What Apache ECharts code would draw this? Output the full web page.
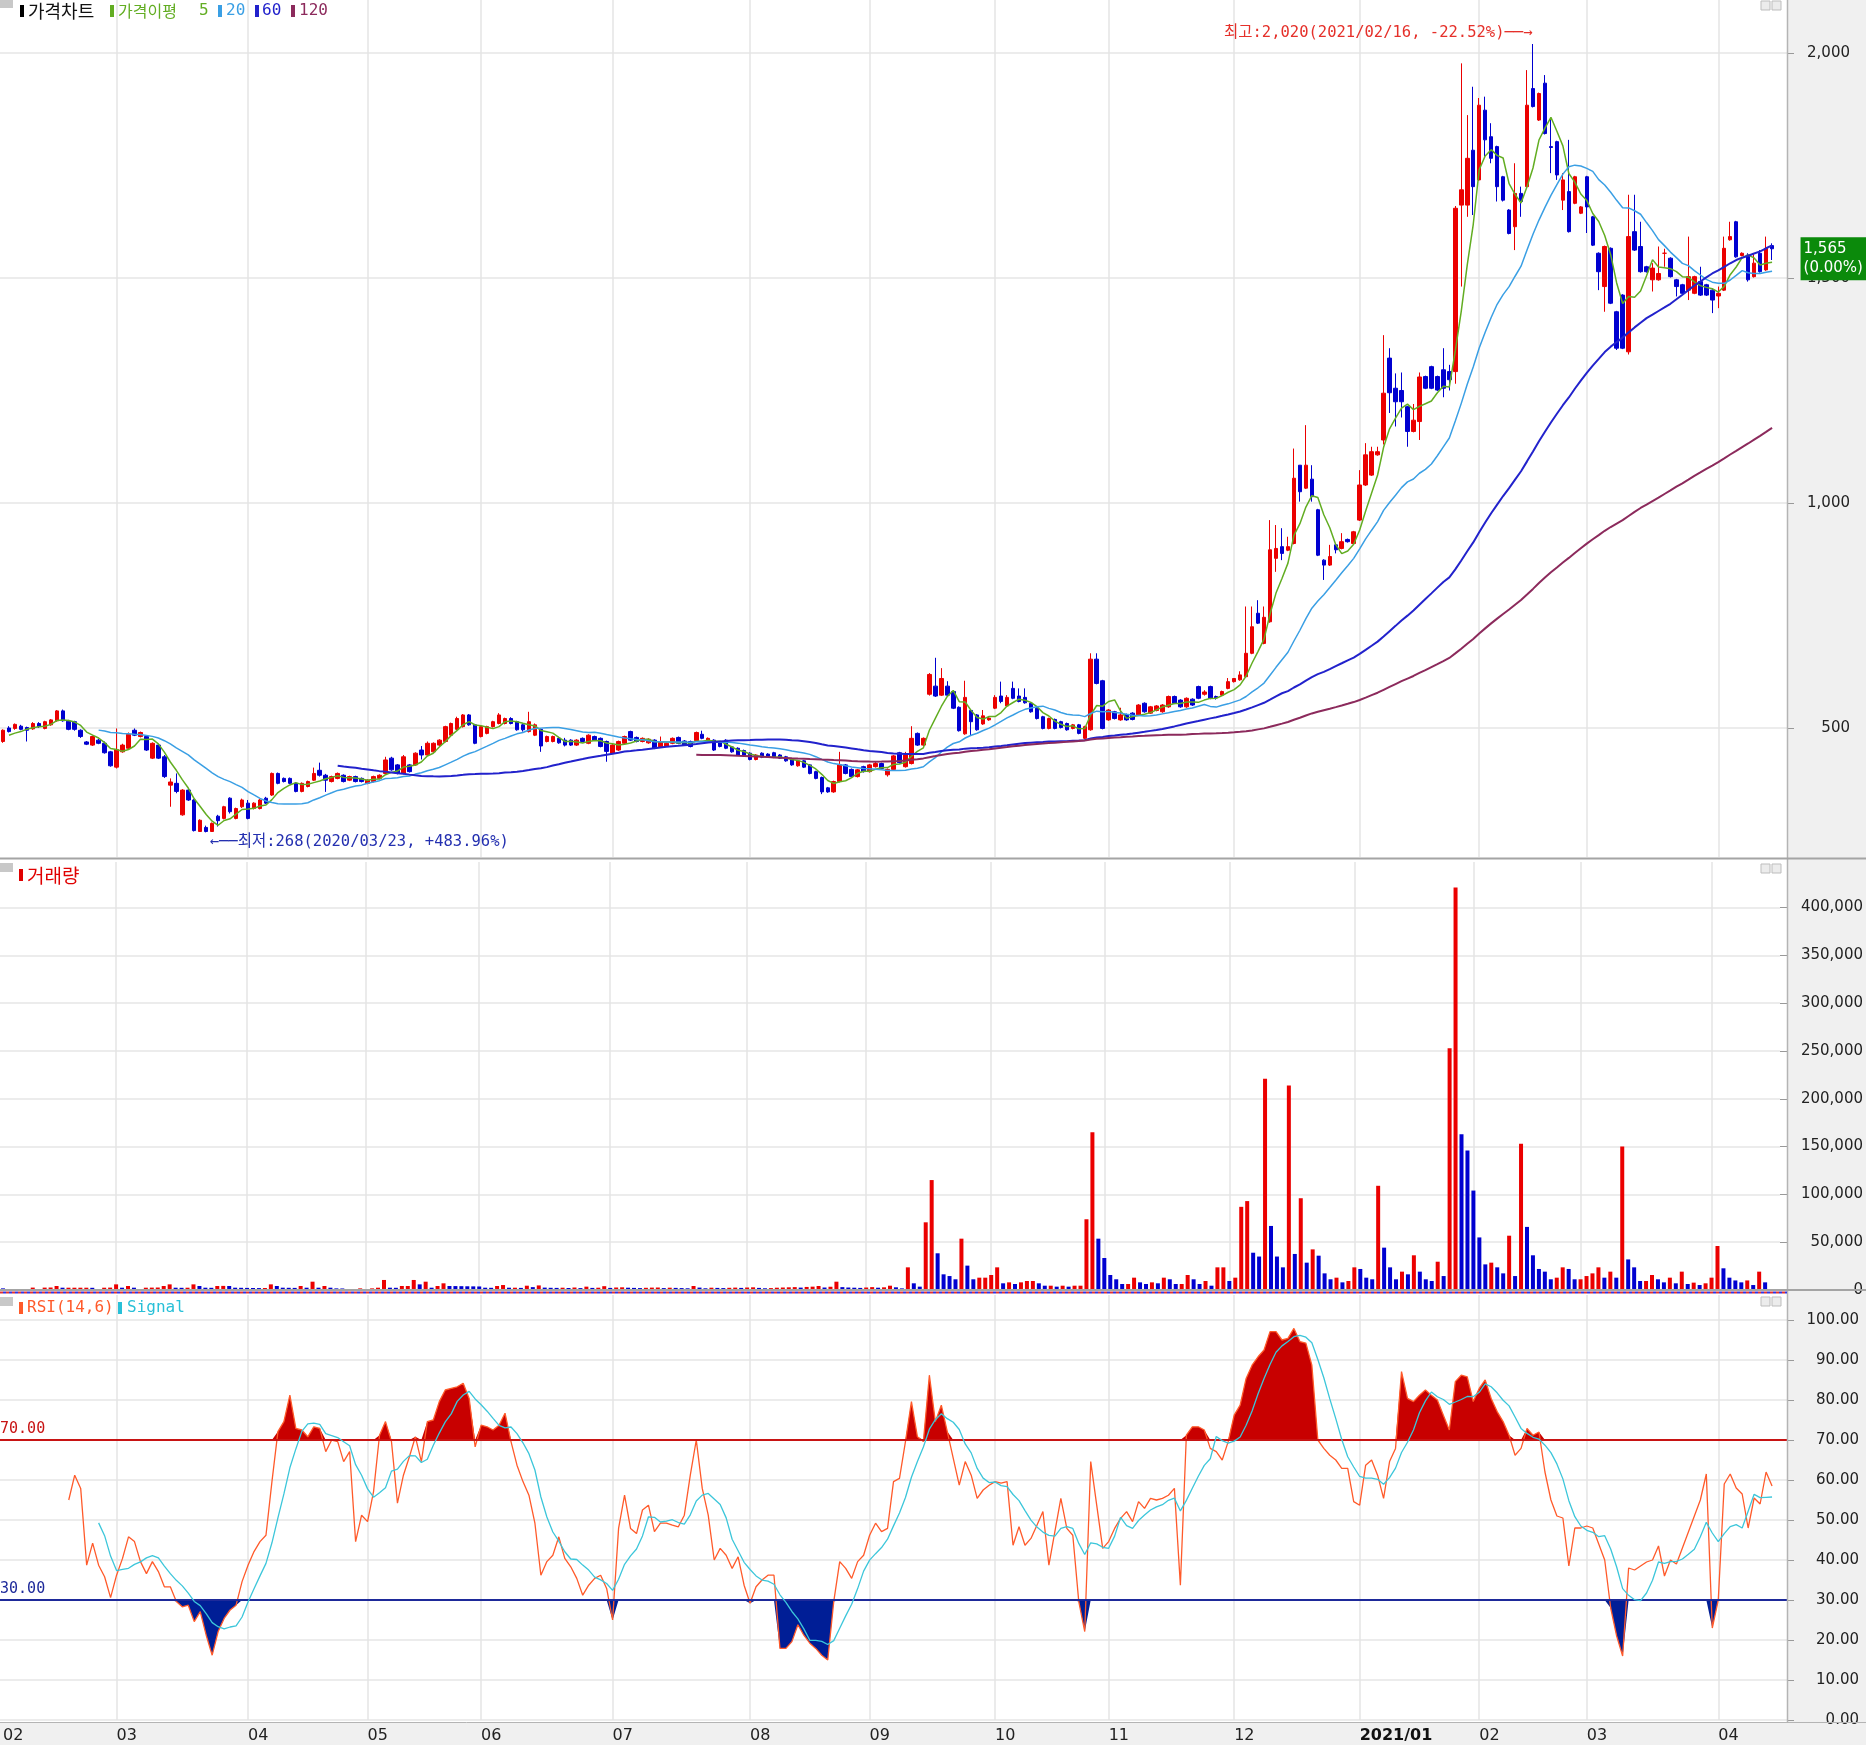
<!DOCTYPE html>
<html><head><meta charset="utf-8">
<script src="https://cdn.jsdelivr.net/npm/echarts@6/dist/echarts.min.js"></script>
<style>html,body{margin:0;padding:0;background:#fff}#c{width:1866px;height:1745px}</style>
</head><body><div id="c"></div>
<script>
// ---------- DATA ----------
const tradingDays = [
 ['2020/02','04 05 06 07 10 11 12 13 14 17 18 19 20 21 24 25 26 27 28'],
 ['2020/03','02 03 04 05 06 09 10 11 12 13 16 17 18 19 20 23 24 25 26 27 30 31'],
 ['2020/04','01 02 03 06 07 08 09 10 13 14 16 17 20 21 22 23 24 27 28 29'],
 ['2020/05','04 06 07 08 11 12 13 14 15 18 19 20 21 22 25 26 27 28 29'],
 ['2020/06','01 02 03 04 05 08 09 10 11 12 15 16 17 18 19 22 23 24 25 26 29 30'],
 ['2020/07','01 02 03 06 07 08 09 10 13 14 15 16 17 20 21 22 23 24 27 28 29 30 31'],
 ['2020/08','03 04 05 06 07 10 11 12 13 14 18 19 20 21 24 25 26 27 28 31'],
 ['2020/09','01 02 03 04 07 08 09 10 11 14 15 16 17 18 21 22 23 24 25 28 29'],
 ['2020/10','05 06 07 08 12 13 14 15 16 19 20 21 22 23 26 27 28 29 30'],
 ['2020/11','02 03 04 05 06 09 10 11 12 13 16 17 18 19 20 23 24 25 26 27 30'],
 ['2020/12','01 02 03 04 07 08 09 10 11 14 15 16 17 18 21 22 23 24 28 29 30'],
 ['2021/01','04 05 06 07 08 11 12 13 14 15 18 19 20 21 22 25 26 27 28 29'],
 ['2021/02','01 02 03 04 05 08 09 10 15 16 17 18 19 22 23 24 25 26'],
 ['2021/03','02 03 04 05 08 09 10 11 12 15 16 17 18 19 22 23 24 25 26 29 30 31'],
 ['2021/04','01 02 05 06 07 08 09 12 13 14']
];
// closes of the 3 sessions before the first visible candle (used by the moving averages)
const preCloses = [485, 480, 468];
// [open, close, low, high]
const ohlc = [
[470,495,467,497],[500,492,490,504],[499,508,496,510],[504,497,495,507],[501,495,470,503],
[498,510,496,513],[510,503,500,513],[499,514,497,516],[507,518,505,520],[516,538,514,540],
[538,516,514,541],[515,497,495,518],[514,497,494,516],[495,481,478,497],[469,464,462,471],
[462,481,460,483],[473,466,464,476],[466,445,443,470],[447,416,414,449],[413,452,410,499],
[447,462,445,465],[455,486,452,490],[495,484,482,499],[481,490,479,492],[481,451,449,484],
[433,466,431,468],[462,433,431,465],[436,392,389,440],[373,380,325,388],[377,359,355,399],
[307,362,305,364],[362,340,338,366],[340,272,270,342],[270,295,269,297],[279,270,268,283],
[270,288,269,290],[304,294,281,307],[299,325,297,327],[344,314,310,346],[299,321,297,323],
[325,340,322,343],[333,299,297,340],[321,333,319,335],[321,340,319,342],[344,333,331,347],
[351,399,349,401],[399,377,375,401],[388,381,379,390],[388,377,375,390],[377,359,357,380],
[359,377,357,379],[370,381,368,383],[384,399,382,412],[406,395,392,423],[395,384,358,398],
[381,392,379,394],[388,399,386,401],[395,381,379,397],[384,392,382,394],[392,381,379,394],
[388,381,379,390],[377,384,375,386],[381,392,379,394],[388,395,386,397],[399,429,397,436],
[433,407,405,436],[418,399,397,420],[399,436,397,440],[418,403,401,420],[418,444,416,446],
[451,440,430,460],[440,466,438,470],[447,466,445,468],[462,473,460,475],[470,503,468,505],
[484,510,482,512],[497,521,495,525],[503,529,501,531],[529,507,505,531],[507,466,464,509],
[481,503,479,505],[488,503,486,505],[503,514,501,516],[510,529,508,533],[510,521,508,523],
[521,510,508,524],[514,496,494,516],[507,496,492,510],[492,514,490,536],[484,507,482,510],
[497,460,447,499],[470,481,468,483],[470,481,468,483],[477,467,465,479],[473,462,459,478],
[473,462,460,475],[462,473,460,475],[477,470,468,479],[466,484,464,486],[481,473,471,483],
[477,459,457,479],[470,448,425,472],[444,462,442,464],[451,470,449,472],[466,481,464,483],
[492,473,471,494],[479,470,468,481],[470,477,468,479],[467,475,465,477],[473,455,453,475],
[458,470,456,481],[460,466,458,468],[466,477,464,479],[479,466,464,481],[471,462,460,473],
[470,459,457,472],[472,490,470,492],[486,477,475,494],[471,477,469,479],[473,451,449,475],
[467,459,457,469],[473,455,453,475],[458,447,445,460],[455,440,438,457],[450,438,436,452],
[444,430,428,446],[430,440,428,442],[444,435,433,446],[442,436,434,444],[445,435,433,447],
[440,433,431,442],[436,427,425,438],[430,418,416,432],[416,427,414,429],[427,413,411,429],
[418,399,397,420],[403,388,386,405],[390,358,353,392],[367,358,356,369],[358,381,356,383],
[381,418,379,447],[418,399,397,420],[408,392,390,410],[392,407,390,409],[414,403,401,416],
[403,418,401,420],[414,421,412,425],[421,410,408,423],[396,408,392,410],[408,438,406,440],
[445,423,421,447],[414,440,412,447],[421,477,419,504],[488,462,460,490],[462,477,460,479],
[575,619,572,622],[593,571,569,656],[573,610,571,633],[593,573,571,604],[581,544,542,583],
[546,494,492,548],[487,568,485,605],[539,514,484,541],[529,496,494,531],[509,527,507,540],
[518,522,516,524],[544,568,542,573],[571,559,555,603],[549,568,547,573],[588,566,564,603],
[571,559,557,588],[568,556,554,588],[555,536,534,557],[544,521,519,546],[525,499,497,527],
[499,521,497,523],[519,499,497,521],[514,501,499,516],[510,496,494,512],[499,507,497,509],
[507,488,486,509],[477,503,475,505],[496,653,494,666],[653,599,597,666],[605,499,497,607],
[518,540,516,542],[536,521,519,538],[518,529,516,545],[530,518,516,532],[533,519,517,535],
[529,551,527,553],[555,536,534,557],[533,547,531,549],[539,549,537,551],[536,551,534,553],
[547,570,545,572],[570,555,553,572],[562,547,545,564],[547,566,545,568],[564,551,549,566],
[592,566,564,594],[575,580,572,584],[592,566,564,594],[570,567,563,572],[573,581,571,583],
[588,603,586,611],[603,610,601,611],[607,618,605,626],[614,666,612,770],[666,725,664,770],
[755,733,731,784],[688,746,686,770],[736,896,734,962],[877,899,847,951],[903,888,873,944],
[895,903,893,925],[910,1055,908,1121],[1084,1025,1003,1084],[1033,1084,1031,1173],[1053,1014,1003,1084],
[985,884,882,987],[873,862,829,875],[862,881,860,907],[907,896,888,909],[899,914,897,933],
[919,914,912,921],[910,936,908,938],[962,1040,960,1073],[1040,1107,1038,1133],[1062,1114,1060,1125],
[1107,1114,1105,1125],[1140,1244,1130,1373],[1322,1245,1200,1344],[1255,1225,1170,1288],[1250,1225,1190,1290],
[1214,1159,1125,1216],[1159,1184,1157,1220],[1181,1280,1140,1290],[1281,1255,1253,1283],[1303,1255,1253,1305],
[1281,1251,1249,1283],[1296,1255,1235,1344],[1292,1274,1250,1307],[1292,1655,1265,1660],[1662,1696,1481,1977],
[1662,1766,1636,1862],[1784,1703,1640,1925],[1718,1884,1716,1900],[1873,1807,1770,1903],[1814,1766,1755,1844],
[1792,1703,1670,1794],[1725,1673,1670,1727],[1651,1599,1597,1653],[1614,1688,1562,1755],[1688,1670,1636,1703],
[1703,1884,1701,1962],[1921,1881,1879,2020],[1851,1910,1849,1912],[1933,1821,1819,1951],[1792,1790,1733,1855],
[1803,1729,1718,1805],[1673,1718,1651,1733],[1692,1603,1601,1807],[1666,1725,1664,1727],[1644,1658,1642,1660],
[1725,1658,1600,1727],[1636,1573,1571,1638],[1555,1514,1473,1557],[1481,1570,1425,1572],[1566,1444,1442,1568],
[1425,1344,1340,1427],[1462,1344,1342,1464],[1336,1592,1330,1685],[1603,1562,1560,1685],[1570,1514,1512,1625],
[1525,1514,1512,1527],[1496,1522,1470,1533],[1496,1510,1494,1570],[1555,1555,1525,1565],[1544,1503,1501,1546],
[1496,1481,1459,1498],[1485,1466,1464,1487],[1473,1503,1451,1592],[1466,1503,1464,1505],[1492,1462,1460,1525],
[1485,1462,1460,1487],[1473,1451,1422,1475],[1460,1466,1433,1481],[1473,1566,1471,1592],[1585,1592,1583,1625],
[1625,1547,1545,1627],[1550,1555,1548,1557],[1551,1496,1492,1555],[1503,1533,1501,1555],[1555,1514,1512,1562],
[1518,1566,1516,1592],[1572,1565,1540,1577]
];
// daily volume, thousands of shares
const volumeK = [
1.7,0.8,0.8,0.8,0.6,2.5,1.0,2.5,2.6,4.2,
2.4,2.4,2.4,2.4,2.4,2.3,0.8,2.4,2.5,5.9,
2.4,4.2,2.4,0.8,2.4,2.5,2.6,4.2,5.9,2.4,
2.3,2.4,5.9,4.2,2.4,2.3,4.2,4.3,4.2,2.4,
2.3,2.2,2.1,2.0,2.1,5.9,4.2,2.4,2.3,2.2,
4.2,2.4,8.7,2.4,4.2,2.4,1.7,1.6,0.8,0.3,
1.7,0.8,1.7,2.4,10.5,2.4,2.3,4.2,4.2,10.5,
5.9,8.7,2.4,4.2,7.0,4.2,4.1,4.0,3.9,3.8,
3.7,2.4,2.3,4.2,5.2,2.4,2.4,2.2,4.5,3.0,
4.8,2.5,2.3,2.2,2.4,2.1,2.6,2.0,3.5,2.2,
2.4,4.0,2.2,2.6,2.8,2.4,2.2,2.0,2.3,2.5,
2.6,2.0,2.4,2.2,2.0,1.8,4.2,2.5,1.8,2.4,
2.2,2.0,2.3,2.5,2.2,2.6,2.8,2.2,1.8,2.0,
2.4,2.6,2.8,3.0,2.5,3.2,3.5,4.2,2.6,3.4,
8.7,3.0,2.6,2.4,2.2,2.6,3.0,2.4,2.8,4.5,
2.8,1.7,23.7,7.0,3.5,70.8,115,38.4,16.4,14.6,
11.2,53.7,25.5,11.2,12.9,12.9,15.7,23.7,7.0,8.0,
6.3,8.0,9.4,9.4,7.0,4.5,4.5,3.5,4.5,3.5,
4.5,4.5,74,165,53.7,33.5,15.7,11.2,6.3,6.3,
12.9,8.0,6.3,8.0,7.0,12.9,11.2,6.3,6.3,15.7,
11.2,6.3,9.4,4.5,23.7,23.7,9.4,12.9,87,93,
39,35,221,67,35,23.7,214,37.7,96,28.6,
42.5,35.9,17.4,11.2,12.9,8.0,9.4,23.7,22,12.9,
11.2,109,44.3,23.7,11.2,19.2,16.4,36.3,19.2,11.2,
9.4,29.6,14.6,253,421,163,146,104,55,26.8,
28.6,23.7,17.4,56.8,14.6,153,66,36.3,22,19.2,
11.2,12.9,23.7,22,11.2,11.2,14.6,17.4,23.7,12.9,
19.2,12.9,150,32,23.7,9.4,9.4,15.7,11.2,8.0,
12.9,7.0,19.2,6.3,7.7,5.2,7.0,12.9,46,22.7,
12.9,10.0,8.0,10.0,5.2,19.2,8.0
];
// RSI(14) values from session index 11 onward
const rsiStart = 11;
const rsiValues = [
55,61.2,57.9,38.7,44.2,38.7,35.8,30.6,36.2,40.4,
45.8,44.6,39.6,36.6,39.6,37.1,33.3,33.3,29.6,28.3,
28.7,24.6,27.1,21.2,16.2,22.1,25.4,27.5,28.7,34.6,
38.7,42.1,44.6,46.2,59.6,72.1,74.6,81.2,72.9,72.5,
70.8,73.3,72.9,67.1,70,69.6,64.6,67.1,44.6,51.2,
49.6,57.1,71.2,74.6,69.6,54.2,61.2,65.8,70.8,64.6,
74.6,75,79.6,82.5,82.9,83.3,84.2,80.4,68.3,73.7,
73.3,72.5,73.7,76.7,69.6,63.7,59.6,56.2,49.2,36.2,
39.6,41.2,45.8,40.4,38.3,35.4,31.2,33.7,35.4,36.2,
32.9,25,47.9,56.2,47.9,46.6,52.5,53.7,47.1,49.2,
49.2,48.7,48.3,51.2,61.2,70,57.9,51.2,40,42.9,
41.2,37.9,40.8,33.7,29.2,33.3,35,36.2,36.2,17.9,
17.9,19.6,23.8,21.2,19.2,17.9,16.2,15,29.6,39.6,
37.9,35.4,39.6,41.2,46.2,49.2,47.1,47.9,59.6,60.4,
69.6,79.6,70.8,69.6,86.2,74.6,78.7,72.1,65.4,58.7,
64.6,61.2,55.4,57.5,58.7,59.6,59.2,59.6,43.7,48.3,
43.7,45.4,48.7,52.1,38.7,47.1,55.4,47.9,46.2,29.6,
22.1,64.6,53.7,42.9,44.6,47.9,50.4,52.1,49.6,54.6,
52.9,55.4,55,55.4,56.2,57.9,33.7,71.2,73.3,73.3,
72.5,67.9,67.1,65,69.6,76.2,78.7,85.4,88.7,90.8,
92.5,97.1,97.1,95,95.4,97.9,94.6,94.2,88.7,70,
67.9,66.2,65,62.9,62.9,54.6,53.7,63.7,65,61.2,
55.4,64.6,67.9,87.1,80.4,79.6,81.2,82.5,81.2,80,
76.2,72.5,84.6,86.2,85.8,79.6,82.9,85,80.4,77.1,
74.6,71.2,66.2,67.9,72.9,71.2,72,62,55,51,
50.5,38.5,48,48,48.5,48,44,40,28,21,
16,38,37.5,38.5,39.5,40,43.5,36,40,39,
43,47,51,55,61.5,23,30,59,61.5,58,
56.5,48,55.5,54,62,58.5
];
const priceTicks = [500, 1000, 1500, 2000];
const volumeTicks = [0, 50000, 100000, 150000, 200000, 250000, 300000, 350000, 400000];
const rsiTicks = [0, 10, 20, 30, 40, 50, 60, 70, 80, 90, 100];
const rsiBands = [70, 30];
const maPeriods = [5, 20, 60, 120];
const highMark = { index: 256, value: 2020, text: '최고:2,020(2021/02/16, -22.52%)──→' };
const lowMark = { index: 34, value: 268, text: '←──최저:268(2020/03/23, +483.96%)' };
const lastTag = { price: 1565, change: '(0.00%)' };

// ---------- BUILD ----------
const UP = '#eb0000', DOWN = '#0000d0';
const MA_COLORS = ['#62ad22', '#3a9fe4', '#2222cc', '#8c2a5c'];
const NUM = "'DejaVu Sans', 'Noto Sans CJK KR', sans-serif";
const MONO = "'DejaVu Sans Mono', 'Noto Sans CJK KR', 'DejaVu Sans', monospace";
const KOR = "'Noto Sans CJK KR', 'DejaVu Sans', sans-serif";

const dates = [], monthStart = {};
tradingDays.forEach(([ym, days]) => {
  days.split(' ').forEach((d, k) => {
    if (k === 0) monthStart[dates.length] = ym;
    dates.push(ym + '/' + d);
  });
});
const N = dates.length;
const cats = dates.concat(['', '']);

const closes = ohlc.map(r => r[1]);
const ext = preCloses.concat(closes);
function movingAvg(n) {
  return closes.map((_, i) => {
    const j = i + preCloses.length;
    if (j + 1 < n) return '-';
    let s = 0;
    for (let k = j - n + 1; k <= j; k++) s += ext[k];
    return +(s / n).toFixed(2);
  });
}
const rsi = new Array(rsiStart).fill('-').concat(rsiValues);
const signal = rsi.map((v, i) => {
  if (i < rsiStart + 5) return '-';
  let s = 0;
  for (let k = i - 5; k <= i; k++) s += rsi[k];
  return +(s / 6).toFixed(2);
});
const hiBase = rsi.map(v => v === '-' ? '-' : rsiBands[0]);
const hiFill = rsi.map(v => v === '-' ? '-' : Math.max(v - rsiBands[0], 0));
const loBase = rsi.map(v => v === '-' ? '-' : Math.min(v, rsiBands[1]));
const loFill = rsi.map(v => v === '-' ? '-' : rsiBands[1] - Math.min(v, rsiBands[1]));
const volData = volumeK.map((v, i) => ({
  value: Math.round(v * 1000),
  itemStyle: { color: (i > 0 && v >= volumeK[i - 1]) ? UP : DOWN }
}));

const isMonth = (i) => monthStart[i] !== undefined;
function xAxisFor(g, showLabels) {
  return {
    type: 'category', gridIndex: g, data: cats, boundaryGap: true,
    axisLine: { show: false }, axisTick: { show: false },
    axisLabel: showLabels ? {
      show: true, interval: (i) => isMonth(i), align: 'left', margin: 8,
      fontFamily: NUM, fontSize: 16, color: '#222',
      formatter: (v, i) => {
        const ym = monthStart[i];
        if (!ym) return '';
        return ym === '2021/01' ? '{b|2021/01}' : ym.slice(5);
      },
      rich: { b: { fontWeight: 'bold', fontFamily: NUM, fontSize: 16, color: '#111' } }
    } : { show: false },
    splitLine: { show: true, alignWithLabel: true, interval: (i) => isMonth(i) && i > 0, lineStyle: { color: '#e4e4e4', width: 1.5 } }
  };
}
function yAxisFor(g, min, max, ticks, fmt, margin) {
  return {
    type: 'value', gridIndex: g, position: 'right', min, max, scale: true,
    axisLine: { show: false },
    axisTick: { show: true, customValues: ticks, length: 7, lineStyle: { color: '#999' } },
    axisLabel: { customValues: ticks, formatter: fmt, align: 'right', margin, fontFamily: NUM, fontSize: 15, color: '#222', showMaxLabel: true },
    splitLine: { show: true, lineStyle: { color: '#e6e6e6', width: 1.5 } }
  };
}

const series = [
  {
    type: 'candlestick', xAxisIndex: 0, yAxisIndex: 0, data: ohlc, barWidth: 4, z: 2,
    itemStyle: { color: UP, color0: DOWN, borderColor: UP, borderColor0: DOWN, borderColorDoji: UP, borderWidth: 1 },
    markPoint: {
      silent: true, symbol: 'circle', symbolSize: 1, itemStyle: { color: 'rgba(0,0,0,0)' }, animation: false,
      data: [
        { coord: [dates[highMark.index], highMark.value], label: { show: true, position: 'left', distance: 0, offset: [0, -11], formatter: highMark.text, color: '#e5302a', fontSize: 15.5, fontFamily: MONO } },
        { coord: [dates[lowMark.index], lowMark.value], label: { show: true, position: 'right', distance: 0, offset: [3, 10], formatter: lowMark.text, color: '#2430b0', fontSize: 15.5, fontFamily: MONO } },
        { coord: [dates[N - 1], lastTag.price], label: { show: true, position: 'right', distance: 0, offset: [28, 10],
          formatter: lastTag.price.toLocaleString('en-US') + '\n' + lastTag.change, color: '#fff', backgroundColor: '#0b8a0b',
          fontSize: 15, lineHeight: 19, padding: [3, 4, 2, 3], width: 59, align: 'left', fontFamily: NUM } }
      ]
    }
  }
];
maPeriods.forEach((p, k) => series.push({
  type: 'line', xAxisIndex: 0, yAxisIndex: 0, data: movingAvg(p), showSymbol: false, symbol: 'none', z: 3,
  lineStyle: { color: MA_COLORS[k], width: k < 2 ? 1.5 : 2 }, silent: true
}));
series.push({ type: 'bar', xAxisIndex: 1, yAxisIndex: 1, data: volData, barWidth: 4, silent: true });
series.push({ type: 'line', xAxisIndex: 2, yAxisIndex: 2, data: hiBase, stack: 'hi', symbol: 'none', lineStyle: { width: 0, opacity: 0 }, silent: true });
series.push({ type: 'line', xAxisIndex: 2, yAxisIndex: 2, data: hiFill, stack: 'hi', symbol: 'none', lineStyle: { width: 0, opacity: 0 }, areaStyle: { color: '#c80000', opacity: 1 }, silent: true });
series.push({ type: 'line', xAxisIndex: 2, yAxisIndex: 2, data: loBase, stack: 'lo', symbol: 'none', lineStyle: { width: 0, opacity: 0 }, silent: true });
series.push({ type: 'line', xAxisIndex: 2, yAxisIndex: 2, data: loFill, stack: 'lo', symbol: 'none', lineStyle: { width: 0, opacity: 0 }, areaStyle: { color: '#001e96', opacity: 1 }, silent: true });
series.push({
  type: 'line', xAxisIndex: 2, yAxisIndex: 2, data: rsi, symbol: 'none', z: 4, silent: true,
  lineStyle: { color: '#ff5a2a', width: 1.3 },
  markLine: {
    silent: true, symbol: ['none', 'none'], animation: false,
    data: [
      { yAxis: rsiBands[0], lineStyle: { color: '#c81414', width: 2, type: 'solid' }, label: { show: true, position: 'insideStartTop', distance: [0, 3], formatter: rsiBands[0].toFixed(2), color: '#c81414', fontSize: 15, fontFamily: MONO } },
      { yAxis: rsiBands[1], lineStyle: { color: '#1e2a9a', width: 2, type: 'solid' }, label: { show: true, position: 'insideStartTop', distance: [0, 3], formatter: rsiBands[1].toFixed(2), color: '#1e2a9a', fontSize: 15, fontFamily: MONO } }
    ]
  }
});
series.push({ type: 'line', xAxisIndex: 2, yAxisIndex: 2, data: signal, symbol: 'none', z: 5, silent: true, lineStyle: { color: '#3cc6da', width: 1.3 } });

function txt(x, y, text, color, size, family, weight) {
  return { type: 'text', x, y, z: 60, silent: true, style: { text, fill: color, font: (weight || 'normal') + ' ' + size + 'px ' + family, verticalAlign: 'middle', align: 'left' } };
}
function rect(x, y, w, h, fill, z, stroke) {
  return { type: 'rect', z: z === undefined ? 60 : z, silent: true, shape: { x, y, width: w, height: h }, style: { fill, stroke: stroke || null, lineWidth: stroke ? 1 : 0 } };
}
function line(x1, y1, x2, y2, stroke, w, dash, off) {
  return { type: 'line', z: 55, silent: true, shape: { x1, y1, x2, y2 }, style: { stroke, lineWidth: w, lineDash: dash || null, lineDashOffset: off || 0 } };
}
const icons = (y) => [rect(1761, y, 9, 9, '#ececec', 60, '#bdbdbd'), rect(1772, y, 9, 9, '#ececec', 60, '#bdbdbd')];
const graphic = [
  rect(1787, 0, 79, 1745, '#f0f0f0', -10),
  rect(0, 1722, 1866, 23, '#f0f0f0', -10),
  line(1787.5, 0, 1787.5, 1722, '#b4b4b4', 1.5),
  line(0, 858.5, 1866, 858.5, '#a4a4a4', 2),
  line(0, 1290, 1866, 1290, '#a4a4a4', 2),
  line(0, 1292.5, 1787, 1292.5, '#e03232', 2, [3, 3], 0),
  line(0, 1292.5, 1787, 1292.5, '#3232e0', 2, [3, 3], 3),
  line(0, 1722.5, 1866, 1722.5, '#b4b4b4', 1),
  // price legend
  rect(0, 0, 13, 8, '#c8c8c8'),
  rect(20, 5, 4, 12, '#000'), txt(28, 11, '가격차트', '#111', 18, KOR),
  rect(110, 5, 4, 12, MA_COLORS[0]), txt(118, 11, '가격이평', MA_COLORS[0], 16, KOR), txt(199, 11, '5', MA_COLORS[0], 16, MONO),
  rect(218, 5, 4, 12, MA_COLORS[1]), txt(226, 11, '20', MA_COLORS[1], 16, MONO),
  rect(255, 5, 4, 12, MA_COLORS[2]), txt(262, 11, '60', MA_COLORS[2], 16, MONO),
  rect(291, 5, 4, 12, MA_COLORS[3]), txt(299, 11, '120', MA_COLORS[3], 16, MONO),
  // volume legend
  rect(0, 863, 13, 9, '#c8c8c8'),
  rect(19, 869, 4, 12, '#e00000'), txt(27, 876, '거래량', '#e00000', 19, KOR),
  // rsi legend
  rect(0, 1297, 13, 9, '#c8c8c8'),
  rect(19, 1302, 4, 12, '#ff5a2a'), txt(27, 1308, 'RSI(14,6)', '#ff5a2a', 16, MONO),
  rect(118, 1302, 4, 12, '#28c0d8'), txt(127, 1308, 'Signal', '#28c0d8', 16, MONO)
].concat(icons(1), icons(864), icons(1297));

const option = {
  animation: false,
  backgroundColor: '#fff',
  grid: [
    { left: 0, right: 79, top: 0, height: 857 },
    { left: 0, right: 79, top: 862, height: 428 },
    { left: 0, right: 79, top: 1295, height: 425 }
  ],
  xAxis: [xAxisFor(0, false), xAxisFor(1, false), xAxisFor(2, true)],
  yAxis: [
    yAxisFor(0, 213.3, 2117.8, priceTicks, v => v.toLocaleString('en-US'), 63),
    yAxisFor(1, 0, 447700, volumeTicks, v => v.toLocaleString('en-US'), 83),
    yAxisFor(2, 0, 106.25, rsiTicks, v => v.toFixed(2), 72)
  ],
  series,
  graphic
};
const chart = echarts.init(document.getElementById('c'), null, { renderer: 'canvas', width: 1866, height: 1745 });
chart.setOption(option);
</script></body></html>
